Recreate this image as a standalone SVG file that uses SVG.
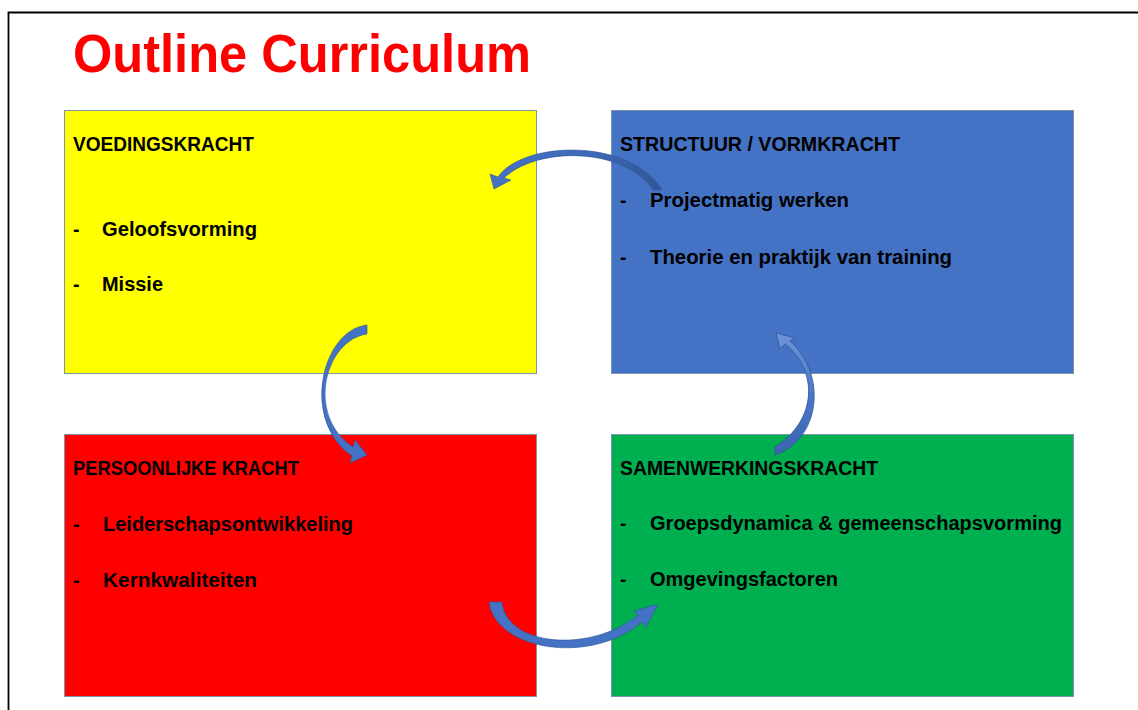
<svg xmlns="http://www.w3.org/2000/svg" width="1138" height="710" viewBox="0 0 1138 710">
<defs>
<style>
.box{stroke:#7f93a8;stroke-width:1}
.h{font-family:"Liberation Sans",Arial,sans-serif;font-weight:bold;font-size:19.5px;fill:#000}
.arr{fill:#4472C4;stroke:#2F5597;stroke-width:0.6}
</style>
<linearGradient id="g3" x1="0" y1="1" x2="0" y2="0">
<stop offset="0" stop-color="#3b64b0"/>
<stop offset="0.5" stop-color="#4a78c8"/>
<stop offset="1" stop-color="#6f93d6"/>
</linearGradient>
<linearGradient id="g1" x1="0" y1="0" x2="1" y2="0">
<stop offset="0" stop-color="#4472C4"/>
<stop offset="0.6" stop-color="#4069b8"/>
<stop offset="1" stop-color="#2F5597"/>
</linearGradient>
</defs>
<rect x="0" y="0" width="1138" height="710" fill="#fff"/>
<path d="M8.5,710 L8.5,12.5 L1138,12.5" fill="none" stroke="#000" stroke-width="1.8"/>
<text x="73" y="72" font-family="'Liberation Sans',Arial,sans-serif" font-weight="bold" font-size="54" fill="#FF0000" textLength="458" lengthAdjust="spacingAndGlyphs">Outline Curriculum</text>

<g id="voedingskracht">
<rect class="box" x="64.5" y="110.5" width="472" height="263" fill="#FFFF00"/>
<text class="h" x="73" y="150.5" textLength="181" lengthAdjust="spacingAndGlyphs">VOEDINGSKRACHT</text>
<text class="h" x="73" y="236">-</text>
<text class="h" x="102" y="236" textLength="155" lengthAdjust="spacingAndGlyphs">Geloofsvorming</text>
<text class="h" x="73" y="291">-</text>
<text class="h" x="102" y="291" textLength="61" lengthAdjust="spacingAndGlyphs">Missie</text>
</g>

<g id="structuur">
<rect class="box" x="611.5" y="110.5" width="462" height="263" fill="#4472C4"/>
<text class="h" x="620" y="150.5" textLength="280" lengthAdjust="spacingAndGlyphs">STRUCTUUR / VORMKRACHT</text>
<text class="h" x="620" y="207">-</text>
<text class="h" x="650" y="207" textLength="199" lengthAdjust="spacingAndGlyphs">Projectmatig werken</text>
<text class="h" x="620" y="264">-</text>
<text class="h" x="650" y="264" textLength="302" lengthAdjust="spacingAndGlyphs">Theorie en praktijk van training</text>
</g>

<g id="persoonlijke">
<rect class="box" x="64.5" y="434.5" width="472" height="262" fill="#FF0000"/>
<text class="h" x="73" y="474.5" textLength="226" lengthAdjust="spacingAndGlyphs">PERSOONLIJKE KRACHT</text>
<text class="h" x="73" y="531">-</text>
<text class="h" x="103" y="531" textLength="250" lengthAdjust="spacingAndGlyphs">Leiderschapsontwikkeling</text>
<text class="h" x="73" y="586.5">-</text>
<text class="h" x="103" y="586.5" textLength="154" lengthAdjust="spacingAndGlyphs">Kernkwaliteiten</text>
</g>

<g id="samenwerking">
<rect class="box" x="611.5" y="434.5" width="462" height="262" fill="#00B050"/>
<text class="h" x="620" y="474.5" textLength="258" lengthAdjust="spacingAndGlyphs">SAMENWERKINGSKRACHT</text>
<text class="h" x="620" y="530">-</text>
<text class="h" x="650" y="530" textLength="412" lengthAdjust="spacingAndGlyphs">Groepsdynamica &amp; gemeenschapsvorming</text>
<text class="h" x="620" y="585.5">-</text>
<text class="h" x="650" y="585.5" textLength="188" lengthAdjust="spacingAndGlyphs">Omgevingsfactoren</text>
</g>

<g id="connectors">
<path d="M662,190 L653,190 C625,147 537,146 504,178 L511,180 L494,189 L490,174 L498,177 C522,141 630,137 662,190 Z" fill="url(#g1)" stroke="#2F5597" stroke-width="0.6"/>
<path class="arr" d="M367,325 L367,334 C325,340 305,415 353,447 L355,440 L367,455 L350,463 L352,456 C300,420 322,330 367,325 Z"/>
<path d="M775,455 L775,447 C818,420 818,370 785,344 L780,349 L776,333 L795,338 L790,341 C828,375 820,440 775,455 Z" fill="url(#g3)" stroke="#2F5597" stroke-width="0.8"/>
<path class="arr" d="M489,602 L502,602 C506,646 590,654 638,615 L634,611 L658,604 L646,627 L642,622 C590,666 495,650 489,602 Z"/>
</g>
</svg>
